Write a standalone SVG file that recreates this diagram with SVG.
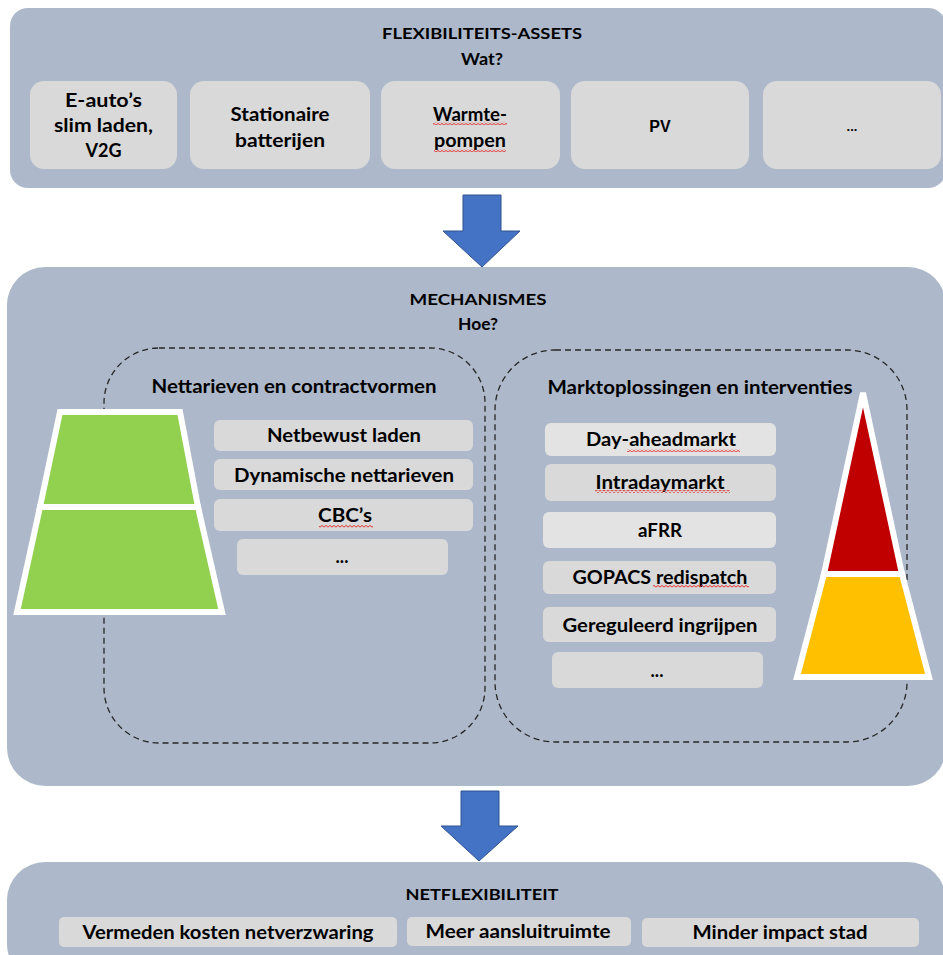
<svg xmlns="http://www.w3.org/2000/svg" width="943" height="955" viewBox="0 0 943 955">
<style>
.panel{fill:#adb9ca}
.box{fill:#d9d9d9}
.boxl{fill:#e3e3e3}
.dash{fill:none;stroke:#262626;stroke-width:1.3;stroke-dasharray:6 4}
.arrow{fill:#4472c4;stroke:#2f528f;stroke-width:1}
text{font-family:Lato,"Open Sans","Liberation Sans",sans-serif;font-weight:700;fill:#000;text-anchor:middle}
.t{font-size:16px}
.q{font-size:17px}
.b{font-size:18px}
.a{font-family:"Liberation Sans",Arial,sans-serif;font-size:16px}
.w{stroke:#fff;stroke-width:6;stroke-linejoin:miter}
</style>
<defs>
<pattern id="squig" width="4" height="3" patternUnits="userSpaceOnUse">
<path d="M0,2.5 L1,1 L2,0.5 L3,1 L4,2.5" fill="none" stroke="#e0302e" stroke-width="0.9"/>
</pattern>
</defs>
<rect width="943" height="955" fill="#ffffff"/>

<g id="flexibiliteits-assets">
<rect class="panel" x="10" y="8" width="936" height="180" rx="18"/>
<text class="t" x="482" y="39" textLength="200" lengthAdjust="spacingAndGlyphs">FLEXIBILITEITS-ASSETS</text>
<text class="q" x="482" y="65" textLength="42" lengthAdjust="spacingAndGlyphs">Wat?</text>
</g>
<g id="asset-eauto">
<rect class="box" x="30" y="81" width="147" height="88" rx="14"/>
<text class="b" x="103.5" y="107" textLength="77" lengthAdjust="spacingAndGlyphs">E-auto’s</text>
<text class="b" x="103.5" y="132" textLength="99" lengthAdjust="spacingAndGlyphs">slim laden,</text>
<text class="b" x="103.5" y="157">V2G</text>
</g>
<g id="asset-batterijen">
<rect class="box" x="190" y="81" width="180" height="88" rx="14"/>
<text class="b" x="280" y="121" textLength="99" lengthAdjust="spacingAndGlyphs">Stationaire</text>
<text class="b" x="280" y="147" textLength="90" lengthAdjust="spacingAndGlyphs">batterijen</text>
</g>
<g id="asset-warmtepompen">
<rect class="box" x="381" y="81" width="179" height="88" rx="14"/>
<text class="b" x="470" y="121" textLength="74" lengthAdjust="spacingAndGlyphs">Warmte-</text>
<text class="b" x="470" y="147" textLength="72" lengthAdjust="spacingAndGlyphs">pompen</text>
<rect x="433" y="122" width="74" height="3" fill="url(#squig)"/>
<rect x="434" y="149" width="72" height="3" fill="url(#squig)"/>
</g>
<g id="asset-pv">
<rect class="box" x="571" y="81" width="178" height="88" rx="14"/>
<text class="a" x="660" y="132">PV</text>
</g>
<g id="asset-more">
<rect class="box" x="763" y="81" width="178" height="88" rx="14"/>
<text class="a" x="852" y="131" style="font-size:13px">...</text>
</g>

<g id="mechanismes">
<rect class="panel" x="7" y="267" width="939" height="519" rx="38"/>
<text class="t" x="478" y="305" textLength="137" lengthAdjust="spacingAndGlyphs">MECHANISMES</text>
<text class="q" x="478" y="330" textLength="40" lengthAdjust="spacingAndGlyphs">Hoe?</text>
</g>

<g id="nettarieven">
<rect class="dash" x="104" y="348" width="381" height="395" rx="55"/>
<text class="b" x="294" y="393" textLength="285" lengthAdjust="spacingAndGlyphs">Nettarieven en contractvormen</text>
<rect class="box" x="214" y="420" width="259" height="31" rx="6"/>
<text class="b" x="344" y="442" textLength="154" lengthAdjust="spacingAndGlyphs">Netbewust laden</text>
<rect class="box" x="214" y="459" width="259" height="31" rx="6"/>
<text class="b" x="344" y="482" textLength="220" lengthAdjust="spacingAndGlyphs">Dynamische nettarieven</text>
<rect class="box" x="214" y="499" width="259" height="32" rx="6"/>
<text class="b" x="345" y="522" textLength="54" lengthAdjust="spacingAndGlyphs">CBC’s</text>
<rect x="319" y="525" width="54" height="3" fill="url(#squig)"/>
<rect class="box" x="237" y="539" width="211" height="36" rx="6"/>
<text class="b" x="342" y="563">...</text>
</g>

<g id="marktoplossingen">
<rect class="dash" x="495" y="350" width="412" height="392" rx="60"/>
<text class="b" x="700" y="394" textLength="305" lengthAdjust="spacingAndGlyphs">Marktoplossingen en interventies</text>
<rect class="boxl" x="545" y="423" width="231" height="33" rx="6"/>
<text class="b" x="661" y="446" textLength="150" lengthAdjust="spacingAndGlyphs">Day-aheadmarkt</text>
<rect x="627" y="449" width="113" height="3" fill="url(#squig)"/>
<rect class="box" x="545" y="464" width="231" height="37" rx="6"/>
<text class="b" x="660" y="489" textLength="129" lengthAdjust="spacingAndGlyphs">Intradaymarkt</text>
<rect x="595" y="490" width="135" height="3" fill="url(#squig)"/>
<rect class="boxl" x="543" y="512" width="233" height="36" rx="6"/>
<text class="b" x="660" y="537" textLength="44" lengthAdjust="spacingAndGlyphs">aFRR</text>
<rect class="box" x="543" y="561" width="233" height="33" rx="6"/>
<text class="b" x="660" y="584" textLength="175" lengthAdjust="spacingAndGlyphs">GOPACS redispatch</text>
<rect x="653" y="585" width="96" height="3" fill="url(#squig)"/>
<rect class="box" x="543" y="607" width="233" height="35" rx="6"/>
<text class="b" x="660" y="632" textLength="195" lengthAdjust="spacingAndGlyphs">Gereguleerd ingrijpen</text>
<rect class="box" x="552" y="652" width="211" height="36" rx="6"/>
<text class="b" x="657" y="677">...</text>
</g>

<g id="green-trapezoid">
<polygon class="w" fill="#92d050" points="60,412 180,412 198,507 40,507"/>
<polygon class="w" fill="#92d050" points="40,507 198,507 222,612 17,612"/>
</g>

<g id="red-yellow-triangle">
<polygon class="w" fill="#c00000" points="863,393 902,574 824,574"/>
<polygon class="w" fill="#ffc000" points="824,574 902,574 929,677 797,677"/>
</g>

<g id="netflexibiliteit">
<rect class="panel" x="7" y="862" width="939" height="120" rx="38"/>
<text class="t" x="482" y="900" textLength="153" lengthAdjust="spacingAndGlyphs">NETFLEXIBILITEIT</text>
<rect class="box" x="59" y="917" width="338" height="30" rx="5"/>
<text class="b" x="228" y="939" textLength="291" lengthAdjust="spacingAndGlyphs">Vermeden kosten netverzwaring</text>
<rect class="box" x="407" y="917" width="224" height="29" rx="5"/>
<text class="b" x="518" y="938" textLength="185" lengthAdjust="spacingAndGlyphs">Meer aansluitruimte</text>
<rect class="box" x="642" y="918" width="277" height="29" rx="5"/>
<text class="b" x="780" y="939" textLength="175" lengthAdjust="spacingAndGlyphs">Minder impact stad</text>
</g>

<g id="connectors">
<polygon class="arrow" points="463,195 501,195 501,231 520,231 482,267 443,231 463,231"/>
<polygon class="arrow" points="461,791 499,791 499,826 518,826 479,861 441,826 461,826"/>
</g>
</svg>
